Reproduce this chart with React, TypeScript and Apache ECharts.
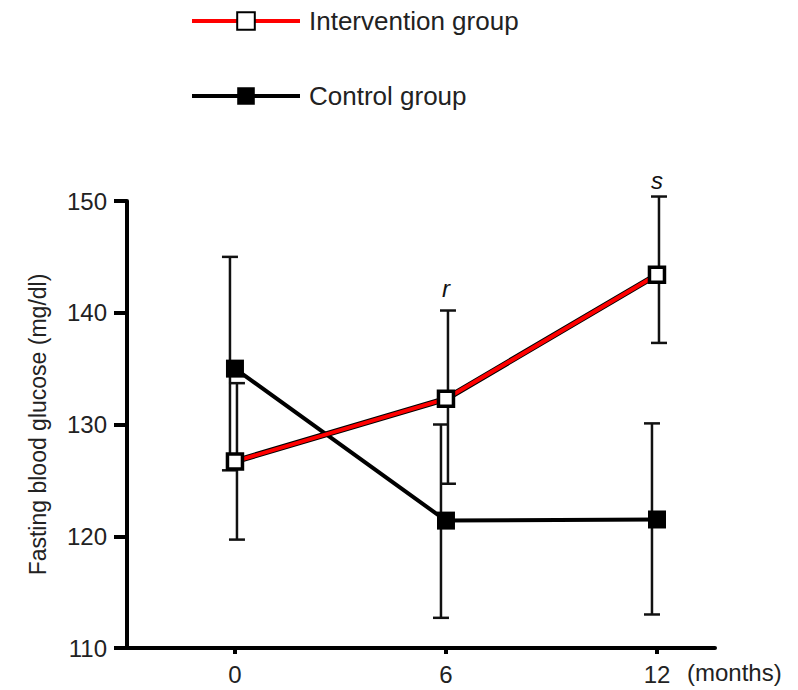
import React, { useEffect, useRef } from "react";
import * as echarts from "echarts";

const months = [0, 6, 12];
const interventionMean = [126.7, 132.3, 143.4];
const interventionUpper = [133.7, 140.2, 150.4];
const interventionLower = [119.7, 124.7, 137.3];
const controlMean = [135.0, 121.4, 121.5];
const controlUpper = [145.0, 130.0, 130.1];
const controlLower = [125.9, 112.7, 113.0];
const xTickValues = [0, 6, 12];
const annotations = [
  { name: "r", month: 6, value: 142.2 },
  { name: "s", month: 12, value: 151.8 },
];

const FONT = "'Liberation Sans', Arial, Helvetica, sans-serif";

export default function App() {
  const ref = useRef<HTMLDivElement>(null);
  useEffect(() => {
    if (!ref.current) return;
    const chart = echarts.init(ref.current, null, { renderer: "svg" });

    const errData = (lo: number[], hi: number[]) =>
      months.map((m, i) => [m, lo[i], hi[i]]);

    const makeErrRender = (offset: number, cap: number) => (params: any, api: any) => {
      const x = api.value(0);
      const lo = api.coord([x, api.value(1)]);
      const hi = api.coord([x, api.value(2)]);
      const px = lo[0] + offset;
      const style = { stroke: "#111", lineWidth: 2.5 };
      return {
        type: "group",
        children: [
          { type: "line", shape: { x1: px, y1: lo[1], x2: px, y2: hi[1] }, style },
          { type: "line", shape: { x1: px - cap, y1: hi[1], x2: px + cap, y2: hi[1] }, style },
          { type: "line", shape: { x1: px - cap, y1: lo[1], x2: px + cap, y2: lo[1] }, style },
        ],
      };
    };

    const monthsLabel = {
      type: "text",
      left: 687,
      top: 660,
      style: { text: "(months)", fontFamily: FONT, fontSize: 24, fill: "#222" },
    };

    const option: any = {
      animation: false,
      backgroundColor: "#fff",
      textStyle: { fontFamily: FONT },
      grid: { left: 127, right: 83, top: 201, bottom: 42, containLabel: false },
      legend: {
        orient: "vertical",
        left: 185,
        top: 3,
        itemWidth: 108,
        itemHeight: 22,
        itemGap: 49,
        selectedMode: false,
        lineStyle: { width: 4 },
        data: ["Intervention group", "Control group"],
        textStyle: {
          fontFamily: FONT,
          fontSize: 26,
          color: "#222",
          lineHeight: 26,
          padding: [0, 0, 0, 4],
        },
      },
      xAxis: {
        type: "value",
        min: -3.07,
        max: 13.65,
        splitLine: { show: false },
        axisLine: { show: true, onZero: false, lineStyle: { color: "#000", width: 4 } },
        axisTick: {
          show: true,
          customValues: xTickValues,
          length: 6,
          lineStyle: { color: "#000", width: 4 },
        },
        axisLabel: {
          customValues: xTickValues,
          fontFamily: FONT,
          fontSize: 24,
          color: "#222",
          margin: 14,
        },
      },
      yAxis: {
        type: "value",
        min: 110,
        max: 150,
        interval: 10,
        name: "Fasting blood glucose (mg/dl)",
        nameLocation: "middle",
        nameGap: 78,
        nameTextStyle: { fontFamily: FONT, fontSize: 23, color: "#222" },
        splitLine: { show: false },
        axisLine: { show: true, onZero: false, lineStyle: { color: "#000", width: 4 } },
        axisTick: { show: true, length: 13, lineStyle: { color: "#000", width: 4 } },
        axisLabel: { fontFamily: FONT, fontSize: 24, color: "#222", margin: 20 },
      },
      graphic: [monthsLabel],
      series: [
        {
          type: "custom",
          name: "Control error",
          renderItem: makeErrRender(-5, 8),
          data: errData(controlLower, controlUpper),
          encode: { x: 0, y: [1, 2] },
          z: 1,
          silent: true,
        },
        {
          type: "custom",
          name: "Intervention error",
          renderItem: makeErrRender(2, 8),
          data: errData(interventionLower, interventionUpper),
          encode: { x: 0, y: [1, 2] },
          z: 1,
          silent: true,
        },
        {
          type: "line",
          name: "Control group",
          data: months.map((m, i) => [m, controlMean[i]]),
          symbol: "rect",
          symbolSize: 18,
          lineStyle: { color: "#000", width: 4 },
          itemStyle: { color: "#000" },
          z: 2,
        },
        {
          type: "line",
          name: "Intervention outline",
          data: months.map((m, i) => [m, interventionMean[i]]),
          symbol: "none",
          lineStyle: { color: "#000", width: 6 },
          z: 3,
        },
        {
          type: "line",
          name: "Intervention group",
          data: months.map((m, i) => [m, interventionMean[i]]),
          symbol: "rect",
          symbolSize: 15,
          showAllSymbol: true,
          lineStyle: { color: "#ff0000", width: 4 },
          itemStyle: { color: "#fff", borderColor: "#000", borderWidth: 3.5 },
          z: 4,
        },
      ],
    };
    chart.setOption(option);

    const annGraphics = annotations.map((a) => {
      const p = chart.convertToPixel({ gridIndex: 0 }, [a.month, a.value]) as number[];
      return {
        type: "text",
        x: p[0],
        y: p[1],
        z: 10,
        style: {
          text: a.name,
          fontFamily: FONT,
          fontSize: 24,
          fontStyle: "italic",
          fill: "#111",
          align: "center",
          verticalAlign: "middle",
        },
      };
    });
    chart.setOption({ graphic: [monthsLabel, ...annGraphics] });
    return () => chart.dispose();
  }, []);
  return (
    <div
      ref={ref}
      style={{ position: "fixed", left: 0, top: 0, width: 798, height: 690 }}
    />
  );
}
